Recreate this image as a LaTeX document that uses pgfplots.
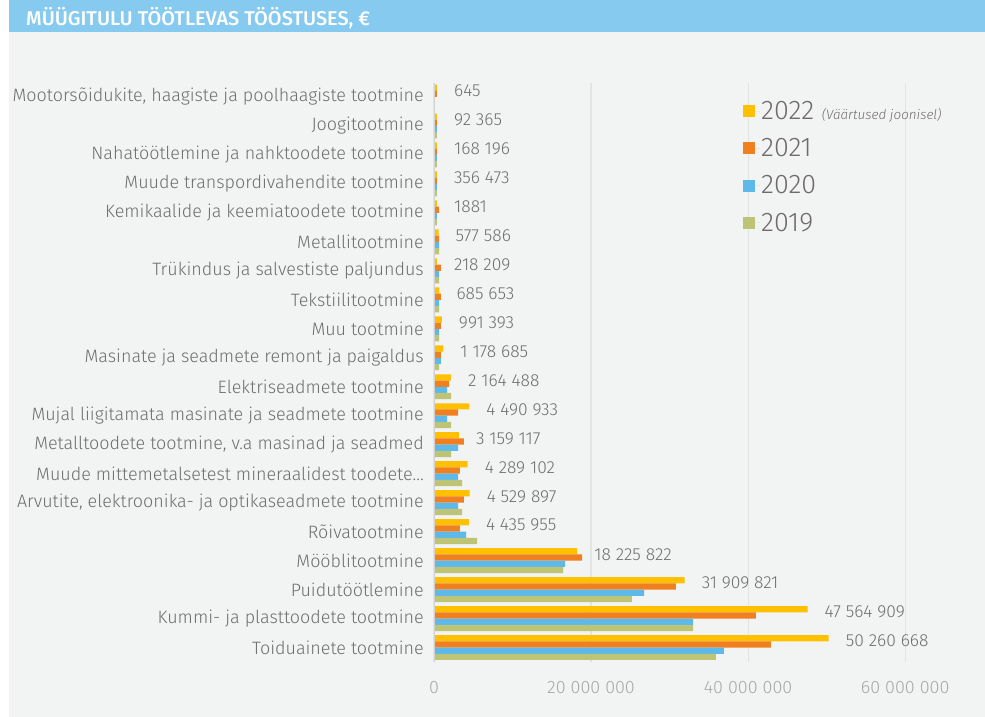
\documentclass[border=0pt]{standalone}
\usepackage{fontspec}
\setmainfont{Fira Sans Light}[BoldFont={Fira Sans}, ItalicFont={Fira Sans Light Italic}]
\newfontfamily\titlefont{Fira Sans Medium}
\usepackage{pgfplots}
\pgfplotsset{compat=1.18}
\definecolor{hdr}{HTML}{86CBEF}
\definecolor{panel}{HTML}{F2F3F3}
\definecolor{grid}{HTML}{E2E3E3}
\definecolor{axl}{HTML}{D2D2D2}
\definecolor{lab}{HTML}{6E6E6E}
\definecolor{tick}{HTML}{A8A8A8}
\definecolor{legt}{HTML}{6F6B6B}
\definecolor{cA}{HTML}{FFC000}
\definecolor{cB}{HTML}{EF7F1F}
\definecolor{cC}{HTML}{5CB9EA}
\definecolor{cD}{HTML}{BDC476}
\begin{document}
\begin{tikzpicture}
\fill[white] (0bp,0bp) rectangle (985bp,-717bp);
\fill[panel] (9bp,-32bp) rectangle (985bp,-717bp);
\fill[hdr] (9bp,0bp) rectangle (985bp,-32bp);
\node[anchor=base west, inner sep=0pt, text=white, font=\titlefont\fontsize{20}{24}\selectfont] at (26bp,-25bp) {MÜÜGITULU TÖÖTLEVAS TÖÖSTUSES, €};
\begin{axis}[
  at={(434bp,-662bp)}, anchor=south west,
  scale only axis, width=534bp, height=579.5bp,
  xmin=0, xmax=68000000, ymin=-0.5, ymax=19.5,
  y dir=reverse,
  xbar, bar width=0.215,
  axis line style={draw=none},
  major tick length=0pt,
  xmajorgrids, grid style={color=grid, line width=1.2bp},
  xtick={0,20000000,40000000,60000000},
  xticklabels={0,20 000 000,40 000 000,60 000 000},
  xticklabel style={text=tick, font=\fontsize{18}{20}\selectfont, inner sep=0pt, anchor=center, yshift=-26bp},
  ytick={0,...,19},
  yticklabels={{Mootorsõidukite, haagiste ja poolhaagiste tootmine},{Joogitootmine},{Nahatöötlemine ja nahktoodete tootmine},{Muude transpordivahendite tootmine},{Kemikaalide ja keemiatoodete tootmine},{Metallitootmine},{Trükindus ja salvestiste paljundus},{Tekstiilitootmine},{Muu tootmine},{Masinate ja seadmete remont ja paigaldus},{Elektriseadmete tootmine},{Mujal liigitamata masinate ja seadmete tootmine},{Metalltoodete tootmine, v.a masinad ja seadmed},{Muude mittemetalsetest mineraalidest toodete…},{Arvutite, elektroonika- ja optikaseadmete tootmine},{Rõivatootmine},{Mööblitootmine},{Puidutöötlemine},{Kummi- ja plasttoodete tootmine},{Toiduainete tootmine}},
  yticklabel style={text=lab, font=\fontsize{18}{20}\selectfont, inner sep=0pt, anchor=east, xshift=-10bp},
  legend cell align=left,
  legend image code/.code={\fill[#1] (0bp,-6bp) rectangle (12bp,6bp); \path (0bp,0bp) -- (17bp,0bp);},
  legend style={at={(rel axis cs:0.5787,0.9695)}, anchor=north west, draw=none, fill=none, text=legt, font=\fontsize{27}{30}\selectfont, row sep=15.5bp, inner sep=0pt, nodes={inner sep=1bp}},
]
\addplot[fill=cA, draw=none, bar shift=-0.3225] coordinates {
(380000,0) (380000,1) (380000,2) (356473,3) (380000,4) (577586,5) (380000,6) (685653,7) (991393,8) (1178685,9)
(2164488,10) (4490933,11) (3159117,12) (4289102,13) (4529897,14) (4435955,15) (18225822,16) (31909821,17) (47564909,18) (50260668,19)};
\addplot[fill=cB, draw=none, bar shift=-0.1075] coordinates {
(380000,0) (380000,1) (380000,2) (380000,3) (640000,4) (640000,5) (890000,6) (890000,7) (890000,8) (890000,9)
(1910000,10) (3060000,11) (3820000,12) (3310000,13) (3820000,14) (3310000,15) (18850000,16) (30800000,17) (41000000,18) (42900000,19)};
\addplot[fill=cC, draw=none, bar shift=0.1075] coordinates {
(0,0) (380000,1) (380000,2) (380000,3) (380000,4) (640000,5) (640000,6) (640000,7) (640000,8) (890000,9)
(1660000,10) (1660000,11) (3060000,12) (3060000,13) (3060000,14) (4080000,15) (16690000,16) (26750000,17) (33000000,18) (36900000,19)};
\addplot[fill=cD, draw=none, bar shift=0.3225] coordinates {
(0,0) (380000,1) (380000,2) (380000,3) (380000,4) (640000,5) (640000,6) (640000,7) (640000,8) (640000,9)
(2170000,10) (2170000,11) (2170000,12) (3570000,13) (3570000,14) (5480000,15) (16430000,16) (25200000,17) (33000000,18) (35900000,19)};
\legend{{2022 {\fontsize{13.5}{15}\selectfont\itshape (Väärtused joonisel)}},2021,2020,2019}
\addplot[forget plot, draw=none, fill=none, bar width=0, bar shift=-0.22,
  nodes near coords, point meta=explicit symbolic,
  nodes near coords style={anchor=west, inner sep=0pt, xshift=17bp, text=lab, font=\fontsize{17.5}{19}\selectfont}] coordinates {
(380000,0) [645] (380000,1) [92 365] (380000,2) [168 196] (356473,3) [356 473] (380000,4) [1881] (577586,5) [577 586] (380000,6) [218 209] (685653,7) [685 653] (991393,8) [991 393] (1178685,9) [1 178 685]
(2164488,10) [2 164 488] (4490933,11) [4 490 933] (3159117,12) [3 159 117] (4289102,13) [4 289 102] (4529897,14) [4 529 897] (4435955,15) [4 435 955] (18225822,16) [18 225 822] (31909821,17) [31 909 821] (47564909,18) [47 564 909] (50260668,19) [50 260 668]};
\draw[axl, line width=2bp] (rel axis cs:0,0) -- (rel axis cs:0,1);
\end{axis}
\pgfresetboundingbox
\path (0bp,0bp) rectangle (985bp,-717bp);
\end{tikzpicture}
\end{document}
